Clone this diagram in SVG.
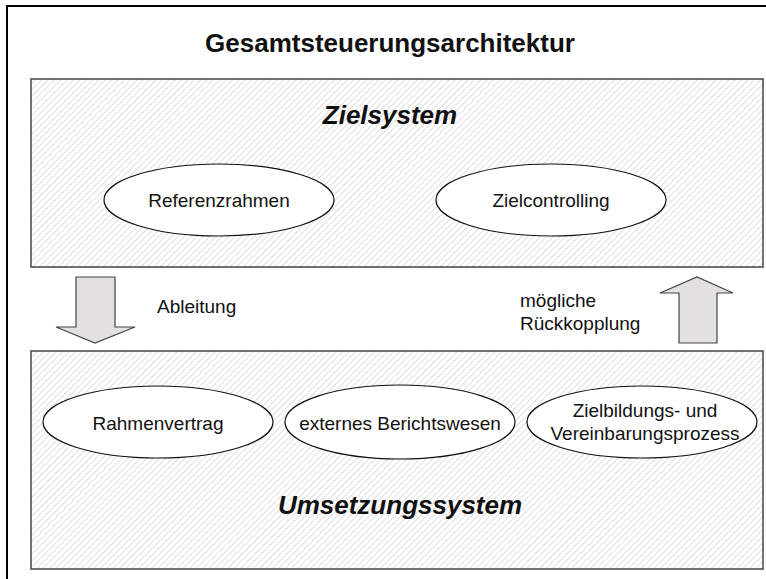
<svg xmlns="http://www.w3.org/2000/svg" width="766" height="579" viewBox="0 0 766 579">
<style>
.t{font-family:"Liberation Sans",Arial,sans-serif;fill:#111}
.lbl{font-size:19px;text-anchor:middle}
.sys{font-size:26px;font-weight:bold;font-style:italic;text-anchor:middle}
.box{fill:url(#hatch);stroke:#444;stroke-width:1.5}
.ell{fill:#fff;stroke:#111;stroke-width:1.2}
.arr{fill:#e2e0e0;stroke:#444;stroke-width:1.2}
</style>
<defs>
<pattern id="hatch" patternUnits="userSpaceOnUse" width="4.5" height="4.5" patternTransform="rotate(45)">
<rect width="4.5" height="4.5" fill="#fff"/>
<line x1="0" y1="0" x2="0" y2="4.5" stroke="#d8d8d8" stroke-width="1.6"/>
</pattern>
</defs>
<rect x="0" y="0" width="766" height="579" fill="#fff"/>
<rect x="7" y="6" width="780" height="600" fill="none" stroke="#000" stroke-width="2"/>
<text class="t" x="390" y="52" font-size="26" font-weight="bold" text-anchor="middle">Gesamtsteuerungsarchitektur</text>

<g id="zielsystem">
<rect class="box" x="31" y="79" width="732" height="188"/>
<text class="t sys" x="390" y="124">Zielsystem</text>
</g>
<g id="referenzrahmen">
<ellipse class="ell" cx="219" cy="200" rx="115" ry="36"/>
<text class="t lbl" x="219" y="207">Referenzrahmen</text>
</g>
<g id="zielcontrolling">
<ellipse class="ell" cx="551" cy="200" rx="115" ry="36"/>
<text class="t lbl" x="551" y="207">Zielcontrolling</text>
</g>

<g id="umsetzungssystem">
<rect class="box" x="31" y="351" width="732" height="218"/>
<text class="t sys" x="400" y="514">Umsetzungssystem</text>
</g>
<g id="rahmenvertrag">
<ellipse class="ell" cx="158" cy="422" rx="115" ry="36"/>
<text class="t lbl" x="158" y="430">Rahmenvertrag</text>
</g>
<g id="berichtswesen">
<ellipse class="ell" cx="400" cy="422" rx="115" ry="37"/>
<text class="t lbl" x="400" y="430">externes Berichtswesen</text>
</g>
<g id="zielbildung">
<ellipse class="ell" cx="642" cy="422" rx="115" ry="36"/>
<text class="t lbl" x="645" y="417">Zielbildungs- und</text>
<text class="t lbl" x="645" y="440">Vereinbarungsprozess</text>
</g>

<g id="connectors">
<g id="ableitung">
<polygon class="arr" points="76,277 115,277 115,327 135,327 95,343 56,327 76,327"/>
<text class="t" x="157" y="313" font-size="19">Ableitung</text>
</g>
<g id="rueckkopplung">
<polygon class="arr" points="679,343 717,343 717,293 733,293 697,277 660,293 679,293"/>
<text class="t" x="520" y="307" font-size="19">mögliche</text>
<text class="t" x="520" y="330" font-size="19">Rückkopplung</text>
</g>
</g>
</svg>
